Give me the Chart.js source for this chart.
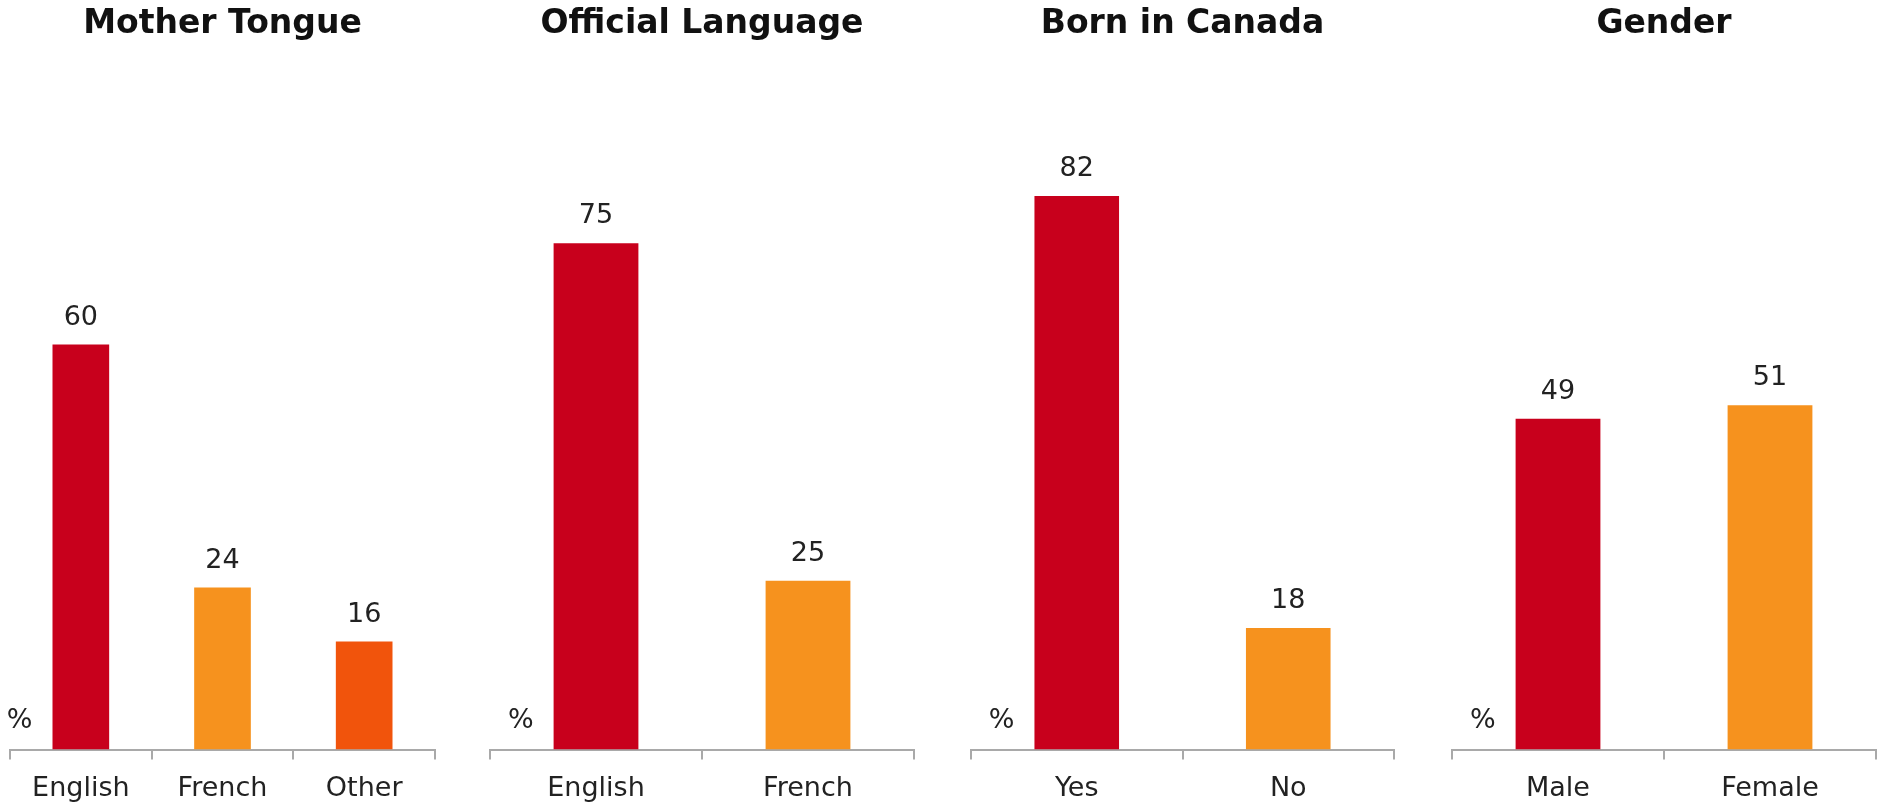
<!DOCTYPE html>
<html>
<head>
<meta charset="utf-8">
<title>Respondent profile</title>
<script src="https://cdn.jsdelivr.net/npm/chart.js@4.4.1/dist/chart.umd.min.js"></script>
<style>
  html, body { margin: 0; padding: 0; background: #fff; }
  #wrap { position: relative; width: 1877px; height: 803px; overflow: hidden; }
  .panel { position: absolute; top: 0; height: 819px; }
</style>
</head>
<body>
<div id="wrap"></div>
<script>
// Panel titles
const titles = ['Mother Tongue', 'Official Language', 'Born in Canada', 'Gender'];

// Categories per panel
const motherTongueLabels = ['English', 'French', 'Other'];
const officialLangLabels = ['English', 'French'];
const bornLabels = ['Yes', 'No'];
const genderLabels = ['Male', 'Female'];

// Percentages per panel
const motherTongueValues = [60, 24, 16];
const officialLangValues = [75, 25];
const bornValues = [82, 18];
const genderValues = [49, 51];

const RED = '#C8001C';
const ORANGE = '#F6921E';
const DEEP_ORANGE = '#F1540C';
const AXIS_GREY = '#A9A9A9';
const TEXT = '#222222';
const FONT = '"DejaVu Sans", Verdana, sans-serif';

// left/right edge of each panel's axis line
const panels = [
    { labels: motherTongueLabels, values: motherTongueValues, colors: [RED, ORANGE, DEEP_ORANGE], x0: 10, x1: 435 },
    { labels: officialLangLabels, values: officialLangValues, colors: [RED, ORANGE], x0: 490, x1: 914 },
    { labels: bornLabels, values: bornValues, colors: [RED, ORANGE], x0: 971, x1: 1394 },
    { labels: genderLabels, values: genderValues, colors: [RED, ORANGE], x0: 1452, x1: 1876 }
];

const SIDE = 24;

// values above the bars plus the "%" marker left of the first bar
const barLabels = {
    id: 'barLabels',
    afterDatasetsDraw(chart) {
        const ctx = chart.ctx;
        const bars = chart.getDatasetMeta(0).data;
        const values = chart.data.datasets[0].data;
        ctx.save();
        ctx.fillStyle = TEXT;
        ctx.font = '27px ' + FONT;
        ctx.textAlign = 'center';
        ctx.textBaseline = 'alphabetic';
        bars.forEach((bar, i) => {
            ctx.fillText(String(values[i]), bar.x, bar.y - 20);
        });
        const first = bars[0];
        ctx.textAlign = 'right';
        ctx.textBaseline = 'middle';
        ctx.fillText('%', first.x - first.width / 2 - 20, chart.chartArea.bottom - 29);
        ctx.restore();
    }
};

const wrap = document.getElementById('wrap');

panels.forEach((p, idx) => {
    const div = document.createElement('div');
    div.className = 'panel';
    div.style.left = (p.x0 - SIDE) + 'px';
    div.style.width = (p.x1 - p.x0 + SIDE * 2) + 'px';
    const canvas = document.createElement('canvas');
    div.appendChild(canvas);
    wrap.appendChild(div);

    new Chart(canvas.getContext('2d'), {
        type: 'bar',
        data: {
            labels: p.labels,
            datasets: [{
                data: p.values,
                backgroundColor: p.colors,
                borderWidth: 0,
                categoryPercentage: 1,
                barPercentage: 0.4
            }]
        },
        options: {
            responsive: true,
            maintainAspectRatio: false,
            animation: false,
            layout: { padding: { left: SIDE, right: SIDE, top: 0, bottom: 1 } },
            plugins: {
                legend: { display: false },
                tooltip: { enabled: false },
                title: {
                    display: true,
                    text: titles[idx],
                    color: '#111',
                    font: { family: FONT, size: 33, weight: 'bold' },
                    padding: { top: 5, bottom: 30 }
                }
            },
            scales: {
                y: {
                    display: false,
                    min: 0,
                    max: 100
                },
                x: {
                    border: { display: true, color: AXIS_GREY, width: 2 },
                    grid: {
                        display: true,
                        drawOnChartArea: false,
                        drawTicks: true,
                        tickLength: 10,
                        color: AXIS_GREY,
                        lineWidth: 2
                    },
                    ticks: {
                        color: TEXT,
                        font: { family: FONT, size: 27 },
                        padding: 13
                    }
                }
            }
        },
        plugins: [barLabels]
    });
});
</script>
</body>
</html>
